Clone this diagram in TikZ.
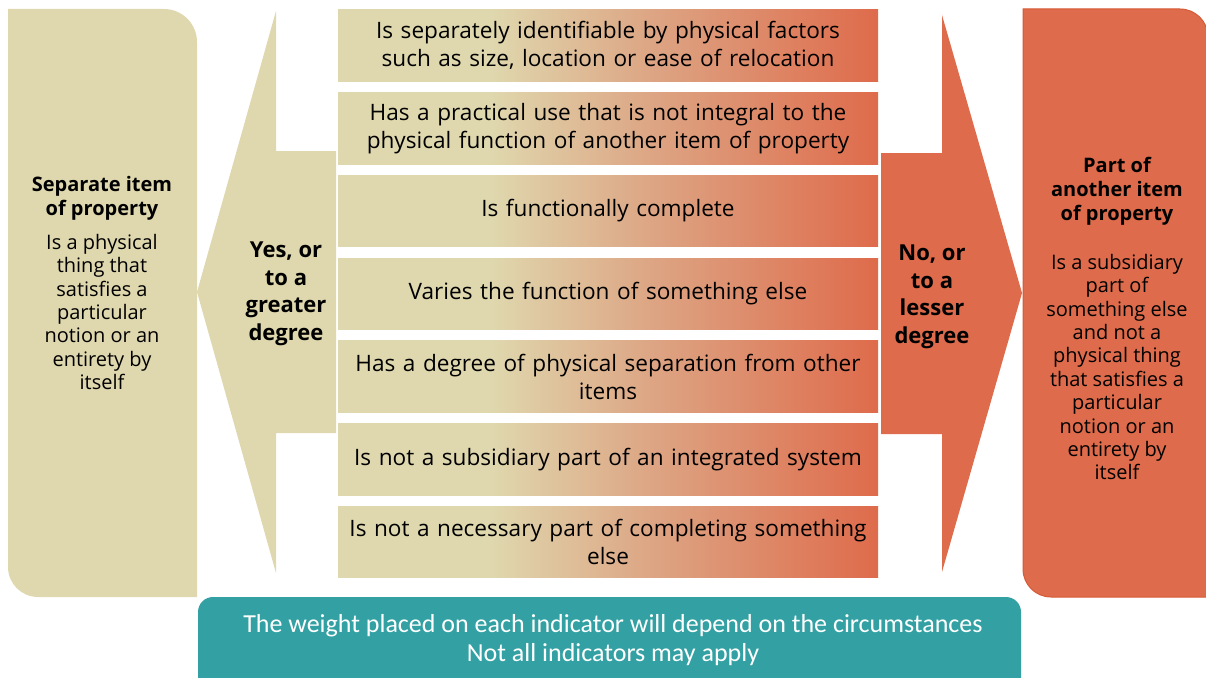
\documentclass[tikz,border=0pt]{standalone}
\usepackage{fontspec}
\setmainfont{Open Sans}
\newfontfamily\notefont{Carlito}
\definecolor{sandbg}{HTML}{DFD8AE}
\definecolor{rustbg}{HTML}{DE6B4B}
\definecolor{rustline}{HTML}{D65A36}
\definecolor{tanmid}{HTML}{DDA584}
\definecolor{tealbg}{HTML}{33A1A3}
\pgfdeclarehorizontalshading{indfade}{100bp}{color(0bp)=(sandbg); color(25bp)=(sandbg); color(39bp)=(sandbg); color(54bp)=(tanmid); color(75bp)=(rustbg); color(100bp)=(rustbg)}
\tikzset{
  indbox/.style={shade, shading=indfade, minimum width=540, minimum height=71.5,
    inner sep=0, text width=530, align=center, font=\fontsize{22.6}{28}\selectfont},
  headtext/.style={align=center, inner sep=0, font=\bfseries\fontsize{20}{24}\selectfont},
  bodytext/.style={align=center, inner sep=0, font=\fontsize{20}{23.4}\selectfont},
  degtext/.style={align=center, inner sep=0, font=\bfseries\fontsize{22}{27.5}\selectfont}
}
\begin{document}
\begin{tikzpicture}[x=1pt,y=-1pt]
    \useasboundingbox (0,0) rectangle (1206,677);

    % side boxes
    \fill[sandbg] (8,9) -- (164,9) arc (-90:0:33) -- (197,597) -- (38,597) arc (90:180:30) -- cycle;
    \filldraw[fill=rustbg, draw=rustline, line width=1] (1023,9) -- (1180,9) arc (-90:0:28)
        -- (1208,597) -- (1051,597) arc (90:180:28) -- cycle;

    % arrows
    \fill[sandbg] (197,292) -- (276,11) -- (276,151) -- (336,151) -- (336,433)
        -- (276,433) -- (276,573) -- cycle;
    \fill[rustbg] (1022,293) -- (942,15) -- (942,153) -- (881,153) -- (881,434)
        -- (942,434) -- (942,572) -- cycle;

    % bottom note
    \fill[tealbg] (198,690) -- (198,612) arc (180:270:15) -- (1006,597) arc (270:360:15)
        -- (1021,690) -- cycle;

    % indicators
    \foreach \txt [count=\i from 0] in {
        {Is separately identifiable by physical factors\\such as size, location or ease of relocation},
        {Has a practical use that is not integral to the\\physical function of another item of property},
        {Is functionally complete},
        {Varies the function of something else},
        {Has a degree of physical separation from other\\items},
        {Is not a subsidiary part of an integrated system},
        {Is not a necessary part of completing something\\else}}
        \node[indbox] (ind\i) at (608,45.5+82.75*\i) {\txt};

    \node[headtext] (septitle) at (102,198) {Separate item\\of property};
    \node[bodytext] (sepbody) at (102,312) {Is a physical\\thing that\\satisfies a\\particular\\notion or an\\entirety by\\itself};

    \node[degtext] (yesdeg) at (286,294) {Yes, or\\to a\\greater\\degree};
    \node[degtext] (nodeg) at (932,297) {No, or\\to a\\lesser\\degree};

    \node[headtext] (parttitle) at (1117,191) {Part of\\another item\\of property};
    \node[bodytext] (partbody) at (1117,367) {Is a subsidiary\\part of\\something else\\and not a\\physical thing\\that satisfies a\\particular\\notion or an\\entirety by\\itself};

    \node[align=center, inner sep=0, text=white, font=\notefont\fontsize{26}{29}\selectfont]
        (note) at (613,640) {The weight placed on each indicator will depend on the circumstances\\Not all indicators may apply};
\end{tikzpicture}
\end{document}
